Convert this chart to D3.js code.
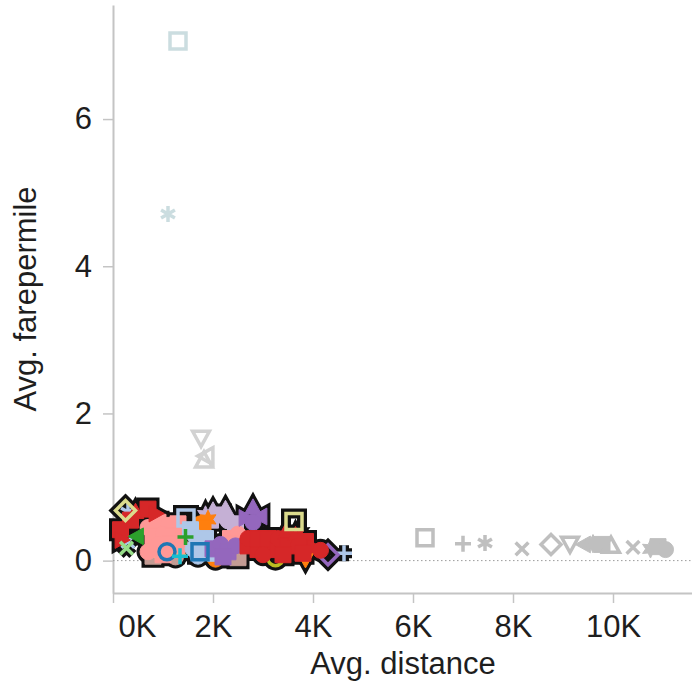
<!DOCTYPE html>
<html>
<head>
<meta charset="utf-8">
<script src="https://cdn.jsdelivr.net/npm/d3@7"></script>
<style>
  body { margin: 0; background: #fff; }
  svg text { font-family: "Liberation Sans", Arial, sans-serif; }
</style>
</head>
<body>
<div id="chart"></div>
<script>
"use strict";

// tick values
var xTicks = [0, 2000, 4000, 6000, 8000, 10000];
var yTicks = [0, 2, 4, 6];

// series colours (tableau 20), in drawing order
var seriesNames = ["tan", "lightOrange", "olive", "lavender", "orange", "pink", "lightBlue",
  "purple", "red", "green", "lightGreen", "khaki", "blue", "cyan"];
var seriesColors = ["#c49c94", "#ffbb78", "#bcbd22", "#c5b0d5", "#ff7f0e", "#ff9896", "#aec7e8",
  "#9467bd", "#d62728", "#2ca02c", "#98df8a", "#dbdb8d", "#1f77b4", "#17becf"];

// [avg distance, avg farepermile, shape]
var tan = [[800, 0.06, "squareFilled"], [1250, 0.05, "circleFilled"], [2500, 0.04, "squareFilled"]];
var lightOrange = [[850, 0.15, "circleFilled"], [1300, 0.15, "triangleUpFilled"]];
var olive = [[3250, 0.04, "circle"]];
var lavender = [[1850, 0.62, "starFilled"], [2000, 0.68, "triangleUpFilled"], [2150, 0.62, "squareFilled"],
  [2300, 0.54, "circleFilled"], [1950, 0.55, "squareFilled"], [2450, 0.5, "squareFilled"],
  [2250, 0.7, "triangleUpFilled"]];
var orange = [[3850, 0.02, "triangleDownFilled"], [2050, 0.02, "circleFilled"],
  [1750, 0.5, "circleFilled"], [1900, 0.56, "starFilled"], [1800, 0.44, "squareFilled"]];
var pink = [[700, 0.45, "circleFilled"], [900, 0.52, "squareFilled"], [1100, 0.48, "circleFilled"],
  [1300, 0.5, "squareFilled"], [800, 0.33, "squareFilled"], [1000, 0.36, "circleFilled"],
  [1200, 0.34, "squareFilled"], [1400, 0.38, "circleFilled"], [900, 0.22, "circleFilled"],
  [1150, 0.22, "squareFilled"], [1350, 0.2, "circleFilled"], [700, 0.12, "circleFilled"],
  [1000, 0.08, "squareFilled"], [2350, 0.3, "squareFilled"],
  [2500, 0.36, "circleFilled"], [2450, 0.22, "squareFilled"]];
var lightBlue = [[1550, 0.42, "squareFilled"], [1650, 0.32, "circleFilled"], [1750, 0.22, "squareFilled"],
  [1600, 0.16, "circleFilled"], [1850, 0.3, "squareFilled"], [1900, 0.16, "circleFilled"],
  [2050, 0.1, "squareFilled"], [1700, 0.06, "circleFilled"], [1460, 0.58, "square"],
  [300, 0.66, "asterisk"], [300, 0.26, "cross"], [4620, 0.1, "plus"]];
var purple = [[2800, 0.72, "triangleUpFilled"], [2650, 0.58, "triangleRightFilled"],
  [2950, 0.6, "triangleLeftFilled"], [2800, 0.52, "circleFilled"], [2000, 0.16, "squareFilled"],
  [2150, 0.22, "circleFilled"], [2300, 0.12, "squareFilled"], [2450, 0.2, "circleFilled"],
  [2200, 0.05, "squareFilled"], [4300, 0.08, "diamond"]];
var red = [[450, 0.66, "triangleUpFilled"], [700, 0.7, "squareFilled"], [850, 0.64, "triangleRightFilled"],
  [350, 0.55, "squareFilled"], [150, 0.42, "squareFilled"], [170, 0.28, "triangleRightFilled"],
  [2700, 0.2, "squareFilled"], [2700, 0.3, "circleFilled"], [2900, 0.15, "squareFilled"],
  [2900, 0.3, "squareFilled"], [3100, 0.2, "circleFilled"], [3100, 0.3, "squareFilled"],
  [3300, 0.15, "squareFilled"], [3300, 0.3, "circleFilled"], [3450, 0.38, "triangleUpFilled"],
  [3500, 0.2, "squareFilled"], [3650, 0.34, "starFilled"], [3700, 0.2, "circleFilled"],
  [3850, 0.26, "squareFilled"], [4000, 0.18, "triangleRightFilled"], [4150, 0.14, "circleFilled"],
  [3000, 0.08, "circleFilled"], [3400, 0.08, "squareFilled"], [3800, 0.1, "squareFilled"]];
var green = [[480, 0.33, "triangleLeftFilled"], [1450, 0.32, "plus"]];
var lightGreen = [[270, 0.17, "cross"]];
var khaki = [[250, 0.68, "diamond"], [3620, 0.53, "square"]];
var blue = [[1080, 0.12, "circle"], [1740, 0.12, "square"]];
var cyan = [[1340, 0.06, "plus"]];

// points outside the highlighted group
var paleOutliers = [[1300, 7.06, "square"], [1100, 4.71, "asterisk"]];
var greyOutliers = [[1760, 1.67, "triangleDown"], [1820, 1.36, "triangleUp"], [1870, 1.42, "triangleLeft"],
  [6240, 0.31, "square"], [7000, 0.23, "plus"], [7440, 0.24, "asterisk"], [8180, 0.16, "cross"],
  [8760, 0.22, "diamond"], [9140, 0.23, "triangleDown"], [9420, 0.22, "triangleLeftFilled"],
  [9600, 0.23, "starFilled"], [9780, 0.22, "squareFilled"], [9960, 0.2, "triangleUp"],
  [10400, 0.18, "cross"], [10750, 0.16, "starFilled"], [10900, 0.19, "squareFilled"],
  [11050, 0.15, "circleFilled"]];

var seriesData = [tan, lightOrange, olive, lavender, orange, pink, lightBlue,
  purple, red, green, lightGreen, khaki, blue, cyan];

var width = 692, height = 682;
var svg = d3.select("#chart").append("svg")
  .attr("width", width)
  .attr("height", height);

var x = d3.scaleLinear().domain([0, 11580]).range([113, 692]);
var y = d3.scaleLinear().domain([-0.44, 7.55]).range([593, 5]);

var color = d3.scaleOrdinal().domain(seriesNames).range(seriesColors);

// shape drawing, r = half size
function shapePath(type, r) {
  var base = type.replace("Filled", "");
  var p = d3.path();
  if (base === "circle") {
    p.arc(0, 0, r, 0, 2 * Math.PI);
  } else if (base === "square") {
    p.rect(-r, -r, 2 * r, 2 * r);
  } else if (base === "diamond") {
    var d = r * 1.25;
    p.moveTo(0, -d); p.lineTo(d, 0); p.lineTo(0, d); p.lineTo(-d, 0); p.closePath();
  } else if (base.indexOf("triangle") === 0) {
    p.moveTo(0, -r * 1.1); p.lineTo(r * 1.05, r * 0.8); p.lineTo(-r * 1.05, r * 0.8); p.closePath();
  } else if (base === "plus") {
    p.moveTo(-r, 0); p.lineTo(r, 0); p.moveTo(0, -r); p.lineTo(0, r);
  } else if (base === "cross") {
    var c = r * 0.8;
    p.moveTo(-c, -c); p.lineTo(c, c); p.moveTo(-c, c); p.lineTo(c, -c);
  } else if (base === "asterisk") {
    for (var i = 0; i < 3; i++) {
      var a = Math.PI / 2 + i * Math.PI / 3;
      p.moveTo(Math.cos(a) * r, Math.sin(a) * r);
      p.lineTo(-Math.cos(a) * r, -Math.sin(a) * r);
    }
  } else if (base === "star") {
    for (var k = 0; k < 12; k++) {
      var ang = -Math.PI / 2 + k * Math.PI / 6;
      var rr = k % 2 === 0 ? r * 1.15 : r * 0.6;
      if (k === 0) p.moveTo(Math.cos(ang) * rr, Math.sin(ang) * rr);
      else p.lineTo(Math.cos(ang) * rr, Math.sin(ang) * rr);
    }
    p.closePath();
  }
  return p.toString();
}

function rotation(type) {
  if (type.indexOf("triangleDown") === 0) return 180;
  if (type.indexOf("triangleLeft") === 0) return -90;
  if (type.indexOf("triangleRight") === 0) return 90;
  return 0;
}

function isFilled(type) { return type.indexOf("Filled") > 0; }

function placeMarks(sel, data) {
  return sel.selectAll("path")
    .data(data)
    .enter()
    .append("path")
    .attr("d", function(d) { return shapePath(d[2], 8); })
    .attr("transform", function(d) {
      return "translate(" + x(d[0]) + "," + y(d[1]) + ") rotate(" + rotation(d[2]) + ")";
    });
}

// axes
var xAxis = d3.axisBottom(x)
  .tickValues(xTicks)
  .tickSize(10)
  .tickSizeOuter(0)
  .tickPadding(12)
  .tickFormat(function(d) { return d / 1000 + "K"; });

var yAxis = d3.axisLeft(y)
  .tickValues(yTicks)
  .tickSize(10)
  .tickSizeOuter(0)
  .tickPadding(11)
  .tickFormat(d3.format("d"));

var gx = svg.append("g").attr("transform", "translate(0,593)").call(xAxis);
var gy = svg.append("g").attr("transform", "translate(113,0)").call(yAxis);

[gx, gy].forEach(function(g) {
  g.select(".domain").attr("stroke", "#c4c4c4").attr("stroke-width", 2);
  g.selectAll(".tick line").attr("stroke", "#c4c4c4").attr("stroke-width", 1.5);
  g.selectAll(".tick text")
    .attr("fill", "#1e1e1e")
    .style("font-size", "31px")
    .style("font-family", "'Liberation Sans', Arial, sans-serif");
});
gx.select(".tick text").attr("text-anchor", "start").attr("x", 5);

// zero line
svg.append("line")
  .attr("x1", x(0)).attr("x2", width)
  .attr("y1", y(0)).attr("y2", y(0))
  .attr("stroke", "#9a9a9a")
  .attr("stroke-width", 1)
  .attr("stroke-dasharray", "1.5,2.5");

// titles
svg.append("text")
  .attr("x", 403).attr("y", 674)
  .attr("text-anchor", "middle")
  .attr("fill", "#1e1e1e")
  .style("font-size", "31px")
  .text("Avg. distance");

svg.append("text")
  .attr("transform", "translate(36,299) rotate(-90)")
  .attr("text-anchor", "middle")
  .attr("fill", "#1e1e1e")
  .style("font-size", "31px")
  .text("Avg. farepermile");

// grey points
placeMarks(svg.append("g"), paleOutliers)
  .attr("fill", function(d) { return isFilled(d[2]) ? "#cbdde0" : "none"; })
  .attr("stroke", "#cbdde0")
  .attr("stroke-width", 3.5);

placeMarks(svg.append("g"), greyOutliers)
  .attr("fill", function(d) { return isFilled(d[2]) ? "#bfbfbf" : "none"; })
  .attr("stroke", function(d, i) { return i < 3 ? "#d2d2d2" : "#bfbfbf"; })
  .attr("stroke-width", function(d) { return isFilled(d[2]) ? 1 : 3.5; });

// black halo behind the highlighted group
var halo = svg.append("g");
seriesData.forEach(function(s) {
  placeMarks(halo.append("g"), s)
    .attr("fill", function(d) { return isFilled(d[2]) ? "#111" : "none"; })
    .attr("stroke", "#111")
    .attr("stroke-width", function(d) { return isFilled(d[2]) ? 7 : 10; });
});

// highlighted group
var marks = svg.append("g");
seriesData.forEach(function(s, i) {
  var c = color(seriesNames[i]);
  placeMarks(marks.append("g"), s)
    .attr("fill", function(d) { return isFilled(d[2]) ? c : "none"; })
    .attr("stroke", c)
    .attr("stroke-width", function(d) { return isFilled(d[2]) ? 1 : 3.5; });
});
</script>
</body>
</html>
